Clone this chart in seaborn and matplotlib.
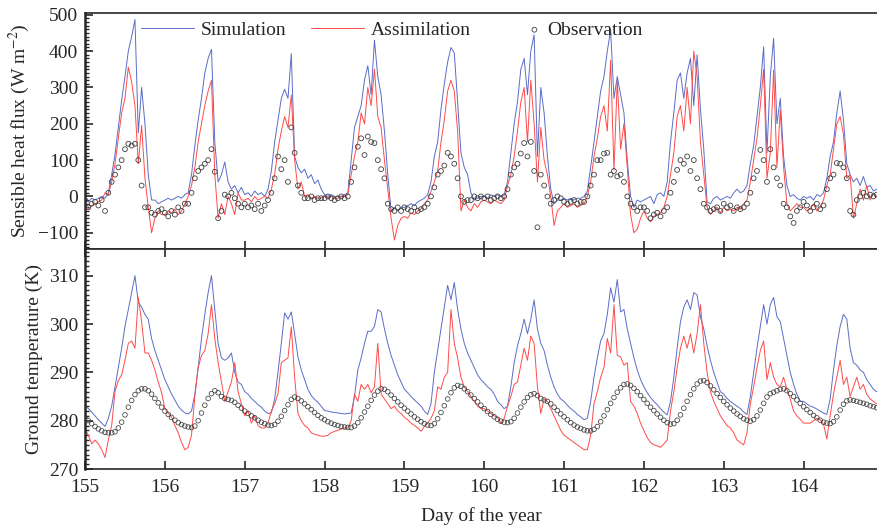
import numpy as np
import matplotlib
matplotlib.use("Agg")
import matplotlib.pyplot as plt
import seaborn as sns
from matplotlib.ticker import MultipleLocator

# hourly values, one row per day (155 ... 164)
days = list(range(155, 165))
hours = list(range(24))

# sensible heat flux (W m-2)
shf_sim = [
    -10, -15, -5, -10, -5, 0, -5, 10, 60, 115, 190, 265, 330, 400, 440, 487, 175, 300, 200, 60, -10, -10, -20, -15,
    -10, -5, -10, -5, 0, -5, 5, 10, 60, 140, 210, 270, 340, 380, 405, 150, 40, 60, 95, 40, 20, 30, 10, 25,
    5, 10, 0, 15, 5, 10, 0, 20, 70, 150, 210, 270, 295, 270, 393, 110, 80, 65, 75, 50, 60, 35, 45, 20,
    5, 0, 5, 0, 0, 0, 5, 10, 100, 190, 220, 250, 320, 360, 280, 430, 330, 280, 180, 60, -40, -30, -40, -30,
    -30, -25, -20, -25, -15, -10, -5, 5, 40, 110, 150, 240, 310, 370, 410, 395, 260, 120, 80, 60, 10, -10, -5, 0,
    0, -5, 5, 0, 5, 0, 5, 40, 120, 200, 260, 350, 380, 280, 400, 445, 110, 300, 230, 110, 20, -20, -10, -10,
    -5, -10, -5, -10, -5, -5, 0, 15, 80, 150, 220, 290, 330, 400, 458, 270, 330, 280, 230, 100, 0, -30, -10, -15,
    -10, -5, 0, -20, 5, 10, 0, 40, 150, 230, 320, 340, 270, 340, 380, 250, 390, 240, 130, -15, -20, -5, 0, -10,
    -5, 0, -5, 10, 20, 10, 15, 30, 90, 140, 220, 300, 412, 120, 330, 435, 200, 270, 110, 30, 0, 5, -5, -10,
    0, -5, 0, -10, 5, 0, 10, 50, 110, 150, 230, 290, 210, 90, 60, 40, 50, 30, 55, 25, 30, 15, 20, 10,
]
shf_asm = [
    -20, -35, -25, -20, -15, -10, 10, 5, 40, 90, 160, 230, 270, 356, 315, 250, 90, 196, 50, -30, -100, -60, -40, -50,
    -50, -40, -45, -35, -50, -40, -20, 0, 30, 80, 150, 200, 250, 290, 320, 60, -60, -20, -50, 0, -20, -50, 10, -10,
    -10, -5, -15, 0, -10, -5, 0, -5, 20, 60, 130, 180, 220, 190, 279, 100, 20, 40, 0, 5, -5, 0, -5, -5,
    0, -5, 0, -5, -5, 0, 0, 5, 60, 110, 150, 230, 200, 300, 250, 350, 220, 190, 100, 20, -60, -120, -80, -60,
    -55, -60, -45, -50, -40, -35, -20, -10, 15, 40, 70, 150, 210, 290, 320, 290, 180, -40, -10, -30, -40, -20, -30, -15,
    -10, -15, -20, -10, -15, -20, -10, 30, 60, 110, 180, 260, 300, 150, 320, 200, 40, 190, 100, 60, 0, -80, -40, -30,
    -20, -30, -25, -20, -30, -25, -20, 0, 40, 110, 160, 220, 250, 180, 375, 72, 320, 130, 200, 80, -50, -100, -90, -60,
    -40, -60, -70, -55, -50, -45, -30, 0, 60, 120, 220, 250, 180, 300, 200, 400, 330, 150, 60, -30, -50, -40, -30, -45,
    -30, -40, -35, -40, -30, -35, -20, -10, 40, 100, 160, 250, 350, 50, 120, 348, 80, 238, 80, -20, -40, -30, -20, -30,
    -30, -40, -35, -20, -40, -30, -10, 30, 60, 130, 200, 220, 170, 50, 60, -60, -20, 20, -10, 30, -10, 10, 0, -10,
]
shf_obs = [
    -10, -30, -20, -15, -25, -10, -40, 10, 40, 60, 80, 100, 130, 145, 140, 145, 100, 30, -30, -30, -45, -50, -40, -35,
    -45, -55, -40, -50, -30, -40, -20, -20, 10, 50, 70, 80, 90, 100, 130, 68, -60, -40, 5, 0, 10, -5, -20, -30,
    -20, -30, -25, -35, -20, -40, -25, -10, 10, 50, 110, 75, 100, 40, 190, 120, 30, 10, -5, -5, 0, -10, -5, -5,
    -5, 0, -5, -10, -5, 0, -5, 0, 40, 80, 137, 160, 114, 165, 150, 147, 100, 75, 50, -20, -35, -40, -30, -40,
    -30, -35, -40, -30, -40, -35, -30, -20, 0, 25, 60, 70, 85, 120, 110, 90, 50, 0, -15, -10, -10, 0, -5, 0,
    -5, 0, -10, -5, 0, -5, 0, 20, 60, 80, 90, 118, 147, 110, 150, 70, -85, 60, 30, 0, -20, -10, 0, -5,
    -15, -20, -15, -10, -20, -15, -15, 0, 30, 60, 100, 100, 118, 120, 60, 70, 55, 60, 40, 0, -20, -30, -40, -30,
    -30, -40, -60, -50, -45, -55, -40, -30, 10, 40, 73, 100, 90, 110, 70, 100, 50, 20, -20, -30, -40, -35, -30, -40,
    -20, -30, -25, -40, -30, -35, -30, -20, 10, 50, 70, 128, 100, 40, 130, 80, 50, 30, -20, -30, -55, -73, -40, -30,
    -15, -25, -40, -30, -20, -35, -25, 20, 50, 60, 92, 90, 80, 50, -40, -50, -10, 0, 10, 0, 5, 0, 5, 0,
]

# ground temperature (K)
tg_sim = [
    283.1, 282.5, 281.8, 281, 280.2, 279.5, 278.8, 280.5, 283, 287, 291, 295, 299.5, 303, 306.5, 310, 304.5, 303.5, 302, 301, 297, 294.5, 292.5, 290.5,
    288.5, 287, 285.5, 284.3, 283, 282.2, 281.6, 281.4, 282, 285.5, 291, 297, 302, 306.5, 310, 303, 296, 293, 292.5, 293, 294, 290, 288, 287.5,
    286, 285.5, 284.6, 284, 283.3, 282.8, 282, 281.5, 281.6, 284.5, 290, 296, 302.3, 301, 302.5, 298, 293.2, 290.5, 288.5, 286.5, 285.2, 284.4, 283.8, 283,
    282.1, 282, 281.8, 281.7, 281.6, 281.5, 281.4, 281.5, 281.6, 285, 290.5, 293, 296, 298.5, 298.5, 299.5, 303, 302.5, 299, 296, 293.5, 291.5, 289.5, 288,
    286.5, 285.8, 285, 284.3, 283.7, 283, 282, 281.3, 283.5, 290, 294.5, 299, 303.5, 308, 305, 308.6, 303, 299, 296, 294, 292.5, 291, 289.5, 288.5,
    287.8, 287, 286.5, 285.5, 284, 283.3, 282.5, 283, 287, 292, 295.5, 298, 301, 298, 301, 305, 299, 296, 294.5, 291.5, 289, 287, 285.5, 284.5,
    284, 283.2, 282.5, 282, 281.3, 280.8, 280.2, 280.5, 284, 289, 293, 296.5, 298, 302, 307.5, 304.5, 309.2, 302.5, 303, 299, 296, 293, 290.5, 288.5,
    287, 285.8, 284.8, 284, 283.3, 282.5, 281.8, 281.2, 284, 289, 295, 300.5, 303.5, 305, 303, 306.5, 306, 301.5, 299, 295.5, 292.5, 290, 288, 286,
    285.5, 284.6, 284, 283.5, 283, 282.5, 281.8, 281.3, 285, 290, 295, 299.5, 304, 300, 304, 305.5, 301.5, 300.5, 297, 293.5, 290, 287.5, 285.5, 284,
    284, 283.5, 283, 282.8, 282.4, 282, 281.6, 281.3, 284.5, 290.5, 295.5, 299.5, 302, 301, 295, 292, 291.5, 290.5, 290, 288.5, 287.5, 286.5, 286, 285.5,
]
tg_asm = [
    278.3, 277, 275.2, 276, 275.2, 274, 272.4, 276, 279, 286, 288.3, 289.5, 292.5, 296, 296.5, 295, 305.5, 300.5, 294, 294, 292.5, 290.5, 288, 285.8,
    282.5, 281.5, 280.8, 279, 277.5, 275.5, 274, 274.5, 277, 285, 291, 293.5, 294.5, 298, 304, 297, 292, 288, 284, 286, 288, 292, 286, 283.5,
    281, 282, 279.5, 281, 279, 278.5, 278.5, 279.5, 282, 283.5, 285.6, 292, 292.5, 293, 299.4, 289, 281.5, 280, 279, 278.5, 277.5, 277.2, 277, 276.8,
    276.8, 277, 277.5, 277.8, 278, 278.3, 278.5, 278.5, 280, 285.5, 284, 287.5, 286.5, 287.5, 285.8, 287, 296, 285.5, 284.5, 283.5, 282.5, 283, 282, 281.5,
    280.7, 280.2, 279.5, 279, 278.5, 277.8, 278.8, 279.5, 280.5, 282, 287, 286.5, 289, 290, 303, 296, 293, 289, 287, 286, 285, 284, 283, 282.5,
    282.5, 282, 281.5, 281, 280.7, 279.5, 280.5, 283, 285, 287.5, 288, 291.5, 295, 292.5, 297.5, 296, 287, 281.5, 284.5, 284, 282.5, 281, 279.5, 278,
    277, 276.5, 276, 275.5, 275, 274.5, 274, 274, 277, 283.5, 286, 289, 291, 297, 294, 304, 293.5, 293.2, 291.5, 292, 284, 283, 281.5, 279.5,
    278, 276.5, 275.5, 275, 274.8, 274.5, 275.2, 276, 282, 286, 291, 295, 297.5, 295, 298, 294, 298, 304, 296, 290, 286, 284, 282.5, 281,
    280, 279, 278.5, 277.5, 276, 275.5, 275, 277.5, 283.5, 287, 291, 294.5, 296.5, 288.5, 292, 289, 287.5, 287, 289, 286.5, 284.5, 282, 281, 280.3,
    279.5, 279.5, 279.5, 280, 280.5, 280.2, 279.3, 276.2, 281, 285.5, 289, 292.5, 287.5, 289, 285, 287, 289, 286.5, 287.5, 285.5, 284.5, 284, 283.5, 283,
]
tg_obs = [
    280.7, 280, 279.4, 278.8, 278.3, 277.9, 277.6, 277.5, 277.5, 277.7, 278.5, 279.7, 281.2, 282.8, 284.2, 285.4, 286.2, 286.6, 286.6, 286.2, 285.5, 284.6, 283.7, 282.8,
    282, 281.3, 280.7, 280.1, 279.6, 279.2, 278.9, 278.7, 278.6, 278.9, 280, 281.6, 283.2, 284.6, 285.6, 286.2, 285.8, 285, 284.6, 284.4, 284.2, 283.8, 283.2, 282.6,
    282, 281.5, 281, 280.6, 280.1, 279.7, 279.4, 279.1, 279, 279.2, 279.9, 280.9, 282.1, 283.3, 284.4, 284.9, 284.6, 284.1, 283.5, 282.9, 282.3, 281.7, 281.1, 280.6,
    280.2, 279.8, 279.5, 279.2, 279, 278.8, 278.7, 278.6, 278.6, 278.9, 279.6, 280.6, 281.8, 283, 284.2, 285.3, 286.1, 286.6, 286.5, 286, 285.3, 284.6, 283.9, 283.2,
    282.6, 282, 281.4, 280.8, 280.3, 279.8, 279.4, 279.1, 279, 279.4, 280.4, 281.7, 283.1, 284.5, 285.8, 286.8, 287.3, 287.1, 286.6, 286, 285.3, 284.6, 283.9, 283.2,
    282.5, 281.9, 281.3, 280.8, 280.3, 279.9, 279.7, 279.6, 279.8, 280.5, 281.6, 282.8, 283.9, 284.8, 285.4, 285.6, 285.2, 284.6, 284.3, 284, 283.5, 282.8, 282.1, 281.4,
    280.8, 280.2, 279.6, 279.1, 278.7, 278.4, 278.1, 277.9, 277.9, 278.2, 278.8, 279.8, 281, 282.3, 283.6, 284.8, 285.9, 286.8, 287.5, 287.6, 287.3, 286.7, 286, 285.2,
    284.4, 283.6, 282.8, 282.1, 281.4, 280.7, 280.1, 279.6, 279.3, 279.4, 280.1, 281.2, 282.6, 284, 285.4, 286.6, 287.6, 288.2, 288.3, 287.9, 287.2, 286.4, 285.6, 284.8,
    284, 283.3, 282.6, 282, 281.4, 280.9, 280.4, 280.1, 279.9, 280.2, 281, 282.2, 283.6, 284.9, 285.6, 285.9, 286.2, 286.5, 286.6, 286.2, 285.6, 285, 284.3, 283.6,
    282.9, 282.3, 281.7, 281.1, 280.6, 280.1, 279.7, 279.5, 279.4, 279.8, 280.8, 282.2, 283.4, 284.1, 284.3, 284.2, 284, 283.8, 283.6, 283.4, 283.1, 282.9, 282.7, 282.5,
]

time = np.array([d + h / 24 for d in days for h in hours])

blue = "#5a6cc8"
red = "#ff4a4a"

sns.set_style("ticks")
plt.rcParams['font.family'] = ['Liberation Serif', 'DejaVu Serif']
plt.rcParams['mathtext.fontset'] = 'stix'
plt.rcParams['font.size'] = 14

fig = plt.figure(figsize=(8.77, 5.30), dpi=100)
ax1 = fig.add_axes([0.097, 0.530, 0.903, 0.4455])
ax2 = fig.add_axes([0.097, 0.115, 0.903, 0.415], sharex=ax1)

# top panel: sensible heat flux
sns.lineplot(x=time, y=shf_sim, ax=ax1, color=blue, lw=0.7, label="Simulation")
sns.lineplot(x=time, y=shf_asm, ax=ax1, color=red, lw=0.7, label="Assimilation")
sns.scatterplot(x=time, y=shf_obs, ax=ax1, marker="o", fc="none", ec="#404040",
                s=12, linewidth=0.6, label="Observation", zorder=3)

# bottom panel: ground temperature
sns.lineplot(x=time, y=tg_sim, ax=ax2, color=blue, lw=0.7)
sns.lineplot(x=time, y=tg_asm, ax=ax2, color=red, lw=0.7)
sns.scatterplot(x=time, y=tg_obs, ax=ax2, marker="o", fc="none", ec="#404040",
                s=11, linewidth=0.55, zorder=3)

ax1.set_ylim(-145, 505)
ax1.yaxis.set_major_locator(MultipleLocator(100))
ax1.yaxis.set_minor_locator(MultipleLocator(10))
ax2.set_ylim(270, 315.5)
ax2.yaxis.set_major_locator(MultipleLocator(10))
ax2.yaxis.set_minor_locator(MultipleLocator(1))
ax2.set_xlim(155, 164.92)
ax2.xaxis.set_major_locator(MultipleLocator(1))

for ax in (ax1, ax2):
    ax.spines['right'].set_visible(False)
    ax.spines['left'].set_linewidth(1.8)
    ax.spines['top'].set_linewidth(1.2)
    ax.spines['bottom'].set_linewidth(1.2)
    ax.tick_params(axis='y', which='major', direction='in', length=6, width=1.2, pad=5, labelsize=14)
    ax.tick_params(axis='y', which='minor', direction='in', length=3, width=1.0)
    ax.tick_params(axis='x', which='major', direction='in', length=6, width=1.2, pad=7, labelsize=14)

ax1.tick_params(axis='x', bottom=True, top=False, labelbottom=False)
ax2.tick_params(axis='x', bottom=True, top=True, labelbottom=True)

ax1.set_ylabel("Sensible heat flux (W m$^{-2}$)", fontsize=14)
ax2.set_ylabel("Ground temperature (K)", fontsize=14)
ax2.set_xlabel("Day of the year", fontsize=14, labelpad=8)
ax1.set_xlabel("")
fig.align_ylabels([ax1, ax2])

# legend: two line entries, then the observation marker
handles, labels = ax1.get_legend_handles_labels()
leg1 = ax1.legend(handles[:2], labels[:2], loc="upper left", bbox_to_anchor=(0.0707, 0.965),
                  ncol=2, frameon=False, borderpad=0, borderaxespad=0, handlelength=2.7,
                  handletextpad=0.35, columnspacing=1.3, fontsize=14)
ax1.add_artist(leg1)
ax1.legend(handles[2:], labels[2:], loc="upper left", bbox_to_anchor=(0.560, 0.965),
           frameon=False, borderpad=0, borderaxespad=0, handlelength=0.6,
           handletextpad=0.35, fontsize=14)

fig.savefig("out.png", dpi=100)
